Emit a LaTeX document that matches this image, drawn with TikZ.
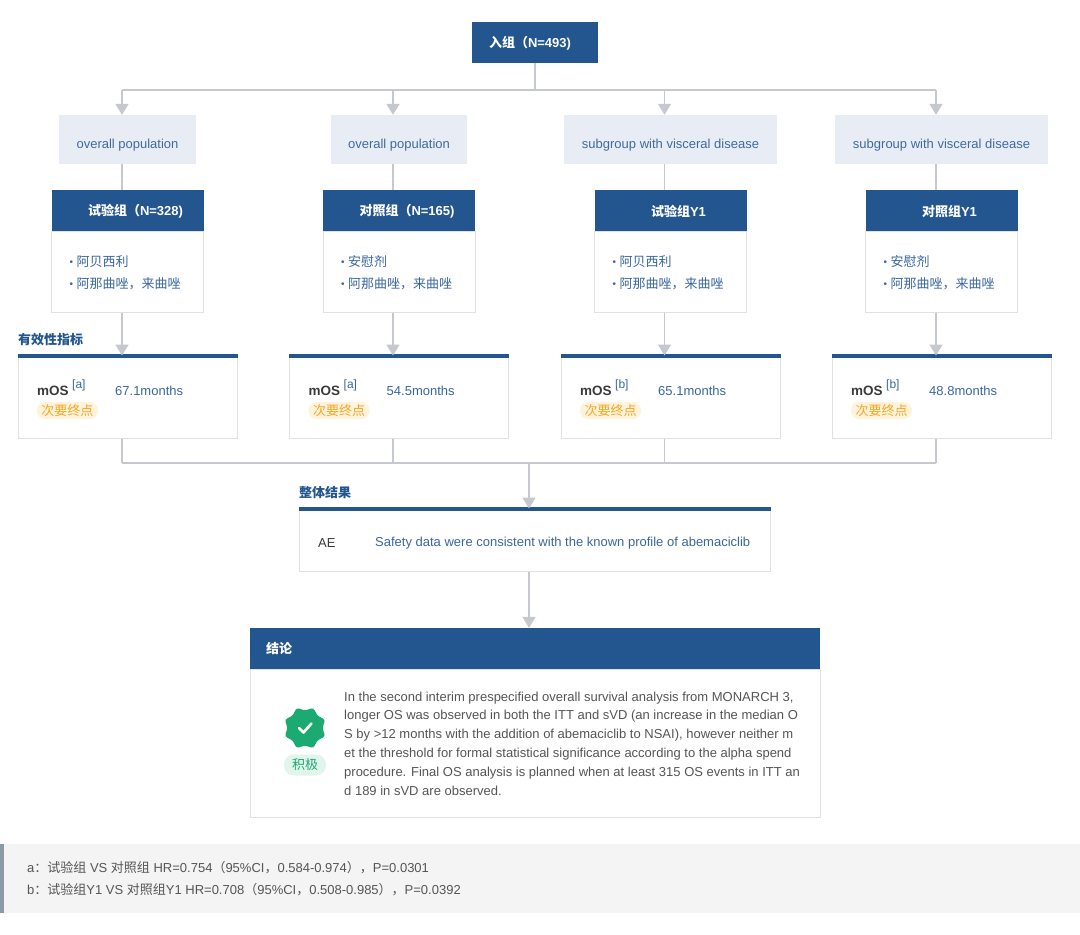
\documentclass[tikz,border=0pt]{standalone}
\usepackage{fontspec}
\setmainfont{Liberation Sans}
\newfontfamily\cjk{Noto Sans CJK SC}
\usetikzlibrary{arrows.meta,shapes.geometric,calc}
\definecolor{navy}{HTML}{23558F}
\definecolor{catfill}{HTML}{E8EDF5}
\definecolor{cattext}{HTML}{3E6A9E}
\definecolor{bluetext}{HTML}{3A67A0}
\definecolor{linegray}{HTML}{C5C8CE}
\definecolor{bordergray}{HTML}{E1E1E1}
\definecolor{darktext}{HTML}{3A3A3A}
\definecolor{paratext}{HTML}{555555}
\definecolor{pillfill}{HTML}{FFF3DC}
\definecolor{pilltext}{HTML}{F5A623}
\definecolor{okgreen}{HTML}{1AAA72}
\definecolor{okfill}{HTML}{E2F5EC}
\definecolor{footbg}{HTML}{F4F4F4}
\definecolor{footbar}{HTML}{8A9BA6}
\newcommand\mybul{\raisebox{0.5pt}{\fontsize{10}{10}\selectfont•}\hspace{3.5pt}}
\tikzset{
  navybox/.style={fill=navy, draw=none, inner sep=0},
  catbox/.style={fill=catfill, draw=none, minimum height=49pt, inner sep=0},
  bodybox/.style={fill=white, draw=bordergray, line width=1pt, inner sep=0},
  txt/.style={inner sep=0, anchor=west},
  conn/.style={draw=linegray, line width=1.8pt},
  arr/.style={draw=linegray, line width=1.8pt, -{Triangle[width=13pt,length=11pt]}},
  pill/.style={rounded corners=8pt, inner sep=0, minimum height=17pt},
}
\begin{document}
\begin{tikzpicture}[x=1pt,y=-1pt, font=\fontsize{13}{15}\selectfont]
\useasboundingbox (0,0) rectangle (1080,935);
\fill[white] (0,0) rectangle (1080,935);

% top node
\node[navybox, minimum width=126pt, minimum height=41pt] (top) at (535,42.5) {};
\node[inner sep=0, text=white, font=\fontsize{13}{15}\selectfont\bfseries] (topt) at (530,43.5) {{\cjk 入组（}N=493)};

% bus coordinates
\coordinate (j1) at (122,90);
\coordinate (j2) at (393,90);
\coordinate (j3) at (664.5,90);
\coordinate (j4) at (936,90);
\coordinate (k1) at (122,463);
\coordinate (k4) at (936,463);
\coordinate (k0) at (529,463);

\draw[conn] (top.south) -- (top.south |- j1);
\draw[conn] (j1) -- (j4);

\foreach \i/\cx/\ax/\cw/\ct/\hd/\ba/\sp/\val in {
  1/127.5/122/137/{overall population}/{{\cjk\bfseries 试验组（}N=328)}/{阿贝西利}/a/67.1,
  2/399/393/136/{overall population}/{{\cjk\bfseries 对照组（}N=165)}/{安慰剂}/a/54.5,
  3/670.5/664.5/213/{subgroup with visceral disease}/{{\cjk\bfseries 试验组}Y1}/{阿贝西利}/b/65.1,
  4/941.5/936/213/{subgroup with visceral disease}/{{\cjk\bfseries 对照组}Y1}/{安慰剂}/b/48.8}
{
  \node[catbox, minimum width=\cw pt] (cat\i) at (\cx,139.5) {};
  \node[inner sep=0, text=cattext] (cat\i t) at (\cx,145) {\ct};
  \node[navybox, minimum width=152pt, minimum height=41pt] (hd\i) at (\cx,210.5) {};
  \node[inner sep=0, text=white, font=\fontsize{13}{15}\selectfont\bfseries] (hd\i t) at ({\cx+8},211.5) {\hd};
  \node[bodybox, minimum width=152pt, minimum height=81pt] (body\i) at (\cx,271.5) {};
  \node[txt, text=bluetext, align=left, font=\fontsize{13}{22}\selectfont] (bl\i) at ({\cx-58},272.5)
     {\mybul{\cjk \ba}\\\mybul{\cjk 阿那曲唑，来曲唑}};
  \node[bodybox, minimum width=219pt, minimum height=82pt] (res\i) at (\cx,397) {};
  \draw[navy, line width=4pt] (res\i.north west) -- (res\i.north east);
  \node[txt, text=darktext, font=\fontsize{13.5}{15}\selectfont\bfseries] (mos\i) at ({\cx-90.5},391) {mOS};
  \node[txt, text=bluetext, font=\fontsize{12}{13}\selectfont] (sup\i) at ({\cx-55.5},385.5) {[\sp]};
  \node[txt, text=bluetext] (val\i) at ({\cx-12.5},391) {\val months};
  \node[pill, fill=pillfill, minimum width=61pt, text=pilltext] (pl\i) at ({\cx-60},410.5) {{\cjk 次要终点}};
  \draw[arr] (j\i) -- (j\i |- cat\i.north);
  \draw[conn] (j\i |- cat\i.south) -- (j\i |- hd\i.north);
  \draw[arr] (j\i |- body\i.south) -- (j\i |- res\i.north);
  \draw[conn] (j\i |- res\i.south) -- (j\i |- k1);
}

\node[txt, text=navy, font=\fontsize{13}{15}\selectfont\cjk\bfseries] (eff) at (18,340) {有效性指标};

\draw[conn] (k1) -- (k4);

% overall result
\node[txt, text=navy, font=\fontsize{13}{15}\selectfont\cjk\bfseries] (ovr) at (299,493) {整体结果};
\node[bodybox, minimum width=471pt, minimum height=62pt] (ae) at (534.5,540) {};
\draw[navy, line width=4pt] (ae.north west) -- (ae.north east);
\node[txt, text=darktext] (aet) at (318,543) {AE};
\node[txt, text=bluetext] (aev) at (375,543) {Safety data were consistent with the known profile of abemaciclib};
\draw[arr] (k0) -- (k0 |- ae.north);

% conclusion
\node[navybox, minimum width=570pt, minimum height=41pt] (conh) at (535,648.5) {};
\node[txt, text=white, font=\fontsize{13}{15}\selectfont\cjk\bfseries] (conht) at (266,649) {结论};
\node[bodybox, minimum width=570pt, minimum height=148pt] (conb) at (535,743) {};
\draw[arr] (ae.south -| k0) -- (k0 |- conh.north);

\node[star, star points=8, star point ratio=0.8, fill=okgreen, minimum size=35pt, inner sep=0, rounded corners=2.5pt] (badge) at (305,728) {};
\draw[white, line width=2.6pt, line cap=round, line join=round]
  ($(badge.center)+(-6,0)$) -- ($(badge.center)+(-1.5,4.5)$) -- ($(badge.center)+(6.5,-4.5)$);
\node[pill, fill=okfill, minimum width=42pt, minimum height=21pt, rounded corners=10pt, text=okgreen] (okp) at (305,765) {{\cjk 积极}};

\node[inner sep=0, anchor=north west, align=left, text=paratext, font=\fontsize{13}{18.8}\selectfont] (para) at (344,691.5) {%
In the second interim prespecified overall survival analysis from MONARCH 3,\\
longer OS was observed in both the ITT and sVD (an increase in the median O\\
S by >12 months with the addition of abemaciclib to NSAI), however neither m\\
et the threshold for formal statistical significance according to the alpha spend\\
procedure. Final OS analysis is planned when at least 315 OS events in ITT an\\
d 189 in sVD are observed.};

% footer
\fill[footbg] (0,844) rectangle (1080,913);
\fill[footbar] (0,844) rectangle (4,913);
\node[txt, text=paratext, font=\fontsize{13}{15}\selectfont] (fa) at (27,868)
  {a{\cjk ：试验组} VS {\cjk 对照组} HR=0.754{\cjk （}95\%CI{\cjk ，}0.584-0.974{\cjk ）}{\cjk ，}P=0.0301};
\node[txt, text=paratext, font=\fontsize{13}{15}\selectfont] (fb) at (27,890)
  {b{\cjk ：试验组}Y1 VS {\cjk 对照组}Y1 HR=0.708{\cjk （}95\%CI{\cjk ，}0.508-0.985{\cjk ）}{\cjk ，}P=0.0392};
\end{tikzpicture}
\end{document}
